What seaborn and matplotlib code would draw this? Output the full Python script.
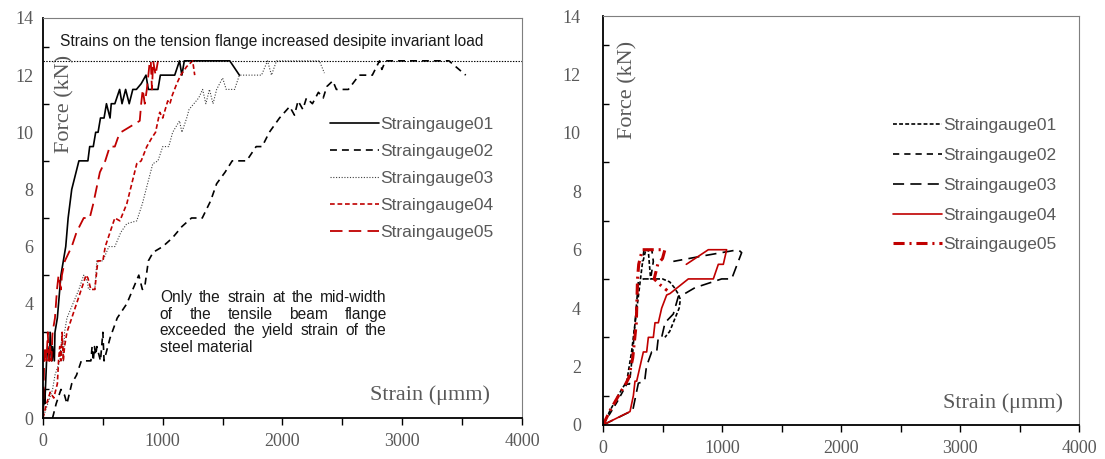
import matplotlib
matplotlib.use("Agg")
import matplotlib.pyplot as plt
import seaborn as sns
from matplotlib.ticker import MultipleLocator

# ---- left panel: readings (strain in µm/m, force in kN)
l_sg01_strain = [0, 10, 15, 30, 40, 55, 60, 75, 80, 95, 100, 120, 140, 150, 170, 190, 210, 240, 270, 300,
                 330, 375, 390, 420, 440, 460, 480, 510, 530, 560, 570, 600, 640, 660, 690, 720, 750, 780, 820, 860,
                 880, 960, 980, 1100, 1140, 1160, 1180, 1200, 1560, 1640]
l_sg01_force = [0, 1, 0.5, 2, 2.5, 2, 3, 2, 2.5, 2, 3, 3.5, 4.5, 5, 5.5, 6, 7, 8, 8.5, 9,
                9, 9, 9.5, 9.5, 10, 10, 10.5, 10.5, 11, 10.5, 11, 11, 11.5, 11, 11.5, 11, 11.5, 11.5, 11.7, 12,
                11.5, 11.5, 12, 12, 12.5, 12, 12.5, 12.5, 12.5, 12]

l_sg02_strain = [80, 110, 150, 180, 200, 240, 280, 320, 400, 410, 420, 430, 440, 450, 480, 500, 510, 560, 620, 700,
                 760, 800, 830, 850, 880, 920, 1000, 1080, 1160, 1240, 1330, 1400, 1450, 1520, 1580, 1700, 1780, 1830,
                 1890, 1975, 2060, 2100, 2130, 2170, 2200, 2250, 2300, 2340, 2370, 2420, 2450, 2550, 2640, 2750, 2810,
                 2830, 2860, 3390, 3530]
l_sg02_force = [0, 0.5, 1, 0.8, 0.5, 1.2, 1.5, 2, 2, 2.5, 2, 2.5, 2.2, 2.5, 2, 3, 2, 2.8, 3.5, 4.0,
                4.6, 5, 4.5, 4.6, 5.5, 5.8, 6, 6.3, 6.7, 7, 7, 7.6, 8.2, 8.6, 9, 9, 9.5, 9.5,
                10, 10.5, 10.9, 10.6, 11.1, 10.8, 11.2, 11, 11.4, 11.2, 11.6, 11.8, 11.5, 11.5, 12, 12, 12.5,
                12.2, 12.5, 12.5, 12]

l_sg03_strain = [0, 40, 80, 100, 140, 160, 170, 180, 200, 250, 300, 340, 370, 380, 400, 433, 450, 500, 550, 600,
                 650, 700, 783, 830, 867, 917, 960, 1000, 1050, 1083, 1140, 1160, 1200, 1220, 1260, 1300, 1333, 1360,
                 1390, 1420, 1450, 1500, 1530, 1600, 1640, 1825, 1875, 1908, 1950, 2308, 2350]
l_sg03_force = [0, 0.5, 1, 1.5, 2, 3, 2, 3, 3.5, 4, 4.5, 5, 4.8, 4.5, 4.5, 4.5, 5.5, 5.5, 6, 6,
                6.5, 6.8, 6.9, 7.5, 8.1, 8.9, 9, 9.5, 9.5, 10, 10.4, 10, 10.5, 10.8, 11, 11.2, 11.5, 11,
                11.5, 11, 11.5, 11.9, 11.5, 11.5, 12, 12, 12.5, 12, 12.5, 12.5, 12.07]

l_sg04_strain = [0, 30, 60, 90, 120, 130, 140, 150, 160, 170, 180, 200, 240, 280, 320, 360, 375, 400, 433, 458,
                 500, 520, 560, 600, 642, 700, 783, 820, 867, 908, 940, 975, 1000, 1042, 1060, 1080, 1117, 1150,
                 1200, 1250, 1267]
l_sg04_force = [0, 0.5, 0.9, 0.7, 1.2, 2, 2.5, 2, 3, 2, 2.5, 3, 3.5, 4, 4.5, 5, 4.9, 4.5, 4.5, 5.5,
                5.5, 6, 6.5, 7, 6.9, 7.5, 8.9, 9, 9.5, 9.8, 10, 10.7, 10.5, 11.1, 11, 11.3, 11.7, 12,
                12.3, 12.5, 12]

l_sg05_strain = [0, 10, 20, 30, 40, 50, 60, 70, 80, 100, 117, 130, 150, 158, 183, 240, 280, 340, 390, 420,
                 475, 520, 558, 600, 625, 650, 808, 820, 833, 850, 867, 880, 892, 900, 910, 920, 940, 960]
l_sg05_force = [0, 2, 2.5, 2, 3, 2, 2.5, 2, 3, 3.5, 4.5, 5, 4.5, 5, 5.5, 6, 6.5, 7, 7, 7.5,
                8.6, 9, 9.5, 9.5, 9.8, 10, 10.4, 11, 11.5, 11, 11.5, 12, 12.5, 12.5, 11.5, 12.5, 12, 12.5]

plateau_load = 12.5

# ---- right panel
r_sg01_strain = [0, 60, 140, 200, 240, 270, 300, 330, 360, 380, 400, 440, 500, 560, 600, 630, 650, 640, 600, 560, 520]
r_sg01_force = [0, 0.5, 1.1, 1.5, 2.5, 3.5, 4.5, 5.5, 6, 6, 5, 5, 5, 4.9, 4.7, 4.5, 4.3, 4, 3.6, 3.2, 3]

r_sg02_strain = [0, 120, 200, 222, 250, 275, 297, 340, 400, 423, 410, 381, 345, 330]
r_sg02_force = [0, 0.8, 1.4, 1.4, 2.5, 3.8, 4.9, 5, 5, 5.6, 6, 6, 6, 5.6]

r_sg03_strain = [0, 250, 297, 350, 365, 409, 451, 465, 493, 521, 591, 633, 689, 773, 997, 1081, 1165, 1137, 857, 591]
r_sg03_force = [0, 0.5, 1.43, 1.5, 2, 2.5, 2.5, 3, 3, 3.5, 3.8, 4.4, 4.5, 4.7, 5, 5, 5.9, 6, 5.8, 5.6]

r_sg04_strain = [0, 227, 255, 269, 283, 311, 339, 367, 381, 423, 437, 465, 493, 535, 563, 717, 927, 969, 1011, 1039, 885, 700]
r_sg04_force = [0, 0.46, 1, 1.5, 1.5, 2, 2.5, 2.5, 3, 3, 3.5, 3.5, 4, 4.45, 4.5, 5, 5, 5.5, 5.5, 6, 6, 5.5]

r_sg05_strain = [0, 60, 130, 190, 215, 250, 280, 290, 300, 330, 380, 450, 520, 500, 460, 430, 480, 540]
r_sg05_force = [0, 0.5, 1, 1.4, 1.6, 2.3, 3.5, 5, 5.5, 6, 6, 6, 6, 5.7, 5.5, 5, 4.8, 4.6]

names = ["Straingauge01", "Straingauge02", "Straingauge03", "Straingauge04", "Straingauge05"]

RED = "#c00000"
GREY = "#595959"

sns.set_style("white")
plt.rcParams["lines.scale_dashes"] = False
plt.rcParams["font.family"] = ["Liberation Sans", "DejaVu Sans"]

fig = plt.figure(figsize=(11.05, 4.59), dpi=100)
ax1 = fig.add_axes([0.0389, 0.0893, 0.4335, 0.8715])
ax2 = fig.add_axes([0.5457, 0.0741, 0.4308, 0.891])


def draw(ax, x, y, name, color, dashes, lw):
    ls = "-" if dashes is None else (0, dashes)
    sns.lineplot(x=x, y=y, ax=ax, sort=False, estimator=None, errorbar=None,
                 color=color, linewidth=lw, linestyle=ls, label=name)


draw(ax1, l_sg01_strain, l_sg01_force, names[0], "black", None, 1.2)
draw(ax1, l_sg02_strain, l_sg02_force, names[1], "black", (5, 3.6), 1.2)
draw(ax1, l_sg03_strain, l_sg03_force, names[2], "#404040", (0.8, 1.2), 0.8)
draw(ax1, l_sg04_strain, l_sg04_force, names[3], RED, (3.4, 2), 1.2)
draw(ax1, l_sg05_strain, l_sg05_force, names[4], RED, (9, 4.5), 1.3)
ax1.axhline(plateau_load, color="black", lw=0.8, linestyle=(0, (1, 1)))

draw(ax2, r_sg01_strain, r_sg01_force, names[0], "black", (2.8, 1.6), 1.2)
draw(ax2, r_sg02_strain, r_sg02_force, names[1], "black", (4.5, 3.6), 1.2)
draw(ax2, r_sg03_strain, r_sg03_force, names[2], "black", (8, 4.5), 1.2)
draw(ax2, r_sg04_strain, r_sg04_force, names[3], RED, None, 1.2)
draw(ax2, r_sg05_strain, r_sg05_force, names[4], RED, (8, 3.5, 1.5, 3.5), 2.2)

for ax, ypad, lab_y, lab_x, sx, sy, leg_xy, spacing in [
        (ax1, 7, 0.785, 0.046, 0.933, 0.0575, (0.599, 0.752), 0.68),
        (ax2, 16, 0.82, 0.0525, 0.966, 0.054, (0.609, 0.75), 0.84)]:
    ax.set_xlim(0, 4000)
    ax.set_ylim(0, 14)
    ax.set_xlabel("")
    ax.set_ylabel("")
    ax.xaxis.set_major_locator(MultipleLocator(1000))
    ax.xaxis.set_minor_locator(MultipleLocator(500))
    ax.yaxis.set_major_locator(MultipleLocator(2))
    ax.yaxis.set_minor_locator(MultipleLocator(1))
    ax.tick_params(axis="x", which="both", direction="out", length=5, width=1, color="black",
                   bottom=True, pad=6)
    ax.tick_params(axis="y", which="major", length=0, pad=ypad, left=True)
    ax.tick_params(axis="y", which="minor", direction="in", length=4, width=1, color="black", left=True)
    for t in ax.get_xticklabels() + ax.get_yticklabels():
        t.set_fontfamily("Liberation Serif")
        t.set_fontsize(13)
        t.set_color(GREY)
    for s in ["left", "bottom"]:
        ax.spines[s].set_color("black")
        ax.spines[s].set_linewidth(1.3)
    for s in ["top", "right"]:
        ax.spines[s].set_visible(True)
        ax.spines[s].set_color("#7f7f7f")
        ax.spines[s].set_linewidth(0.8)
    ax.text(lab_x, lab_y, "Force (kN)", transform=ax.transAxes, rotation=90, ha="center", va="center",
            fontfamily="Liberation Serif", fontsize=16, color=GREY)
    ax.text(sx, sy, "Strain (\u03bcmm)", transform=ax.transAxes, ha="right", va="center",
            fontfamily="Liberation Serif", fontsize=16, color=GREY)
    leg = ax.legend(loc="upper left", bbox_to_anchor=leg_xy, frameon=False, fontsize=12.5,
                    handlelength=2.8, handletextpad=0.1, labelspacing=spacing,
                    borderpad=0, borderaxespad=0)
    for t in leg.get_texts():
        t.set_color(GREY)

ax1.text(0.0355, 0.94, "Strains on the tension flange increased desipite invariant load",
         transform=ax1.transAxes, ha="left", va="center", fontsize=11.2, color="#1a1a1a")

# justified note block, like the text box in the original
renderer = fig.canvas.get_renderer()
note_lines = ["Only the strain at the mid-width",
              "of the tensile beam flange",
              "exceeded the yield strain of the",
              "steel material"]
x0, x1 = 0.244, 0.718
ax_w = ax1.get_window_extent(renderer).width
for i, line in enumerate(note_lines):
    yy = 0.29 - i * 0.0415
    if i == len(note_lines) - 1:
        ax1.text(x0, yy, line, transform=ax1.transAxes, ha="left", va="baseline",
                 fontsize=11.2, color="#1a1a1a")
        continue
    words = line.split()
    texts = [ax1.text(0, yy, w, transform=ax1.transAxes, ha="left", va="baseline",
                      fontsize=11.2, color="#1a1a1a") for w in words]
    widths = [t.get_window_extent(renderer).width for t in texts]
    gap = ((x1 - x0) * ax_w - sum(widths)) / (len(words) - 1)
    pos = x0 * ax_w
    for t, w in zip(texts, widths):
        t.set_x(pos / ax_w)
        pos += w + gap

fig.savefig("out.png", dpi=100)
